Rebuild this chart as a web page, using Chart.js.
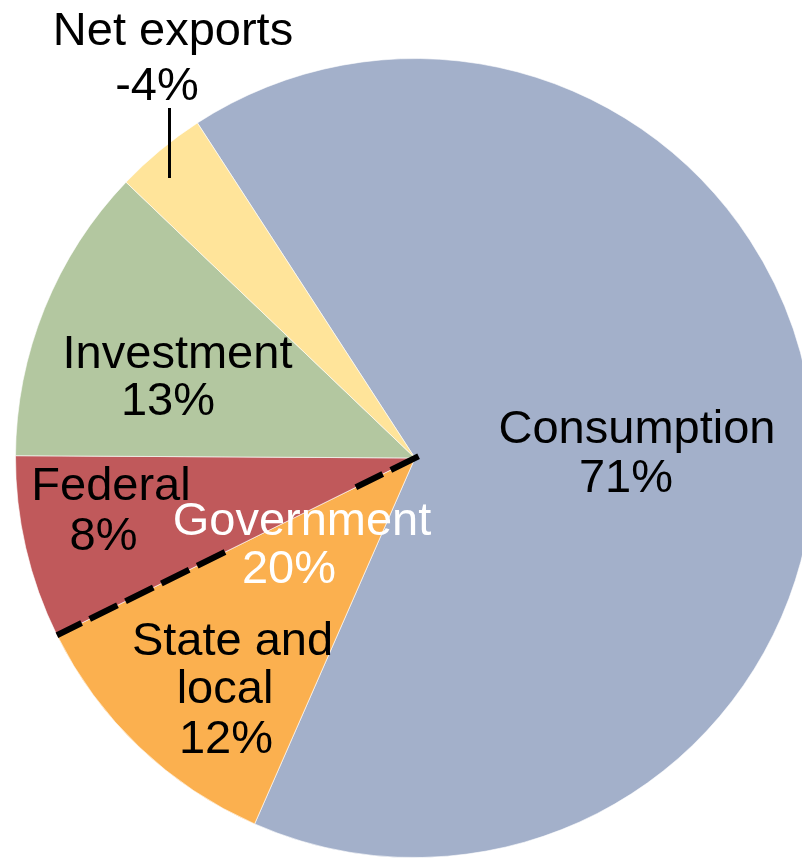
<!DOCTYPE html>
<html>
<head>
<meta charset="utf-8">
<script src="https://cdn.jsdelivr.net/npm/chart.js@4/dist/chart.umd.min.js"></script>
<style>
  html, body { margin: 0; padding: 0; background: #ffffff; overflow: hidden; width: 802px; height: 863px; }
  #wrap { position: absolute; left: 0; top: 0; width: 830px; height: 863px; }
  canvas { display: block; }
</style>
</head>
<body>
<div id="wrap"><canvas id="c" width="830" height="863"></canvas></div>
<script>
// ---- data ----
const categories   = ['Consumption', 'State and local', 'Federal', 'Investment', 'Net exports'];
const sliceValues  = [71, 12, 8, 13, 4];          // slice sizes (net exports drawn by magnitude)
const shareLabels  = ['71%', '12%', '8%', '13%', '-4%'];
const groupName    = 'Government';              // State and local + Federal
const groupShare   = '20%';
const sliceColors  = ['#A3B0CA', '#FBB04F', '#C0595B', '#B3C7A0', '#FFE49A'];

// ---- layout of the annotation text (text centre x, baseline y) ----
const labelLines = [
  { text: 'Consumption', x: 637,   y: 443, color: '#000' },
  { text: shareLabels[0], x: 626,  y: 492, color: '#000' },
  { text: 'State and',   x: 232.5, y: 655, color: '#000' },
  { text: 'local',       x: 225,   y: 703, color: '#000' },
  { text: shareLabels[1], x: 226,  y: 753, color: '#000' },
  { text: 'Federal',     x: 111,   y: 500, color: '#000' },
  { text: shareLabels[2], x: 103.5, y: 550, color: '#000' },
  { text: 'Investment',  x: 177.5, y: 368, color: '#000' },
  { text: shareLabels[3], x: 168,  y: 415, color: '#000' },
  { text: 'Net exports', x: 173,   y: 45,  color: '#000' },
  { text: shareLabels[4], x: 157,  y: 100, color: '#000' },
  { text: groupName,     x: 302,   y: 535, color: '#fff' },
  { text: groupShare,    x: 289,   y: 583, color: '#fff' }
];
const leader = { x: 169.5, y1: 108, y2: 178, width: 3 };
const FONT = '47px "Liberation Sans", Arial, Helvetica, sans-serif';

// dashed divider between Federal and State and local (drawn along the arc edge)
const dividerPlugin = {
  id: 'divider',
  afterDatasetsDraw(chart) {
    const arc = chart.getDatasetMeta(0).data[1]; // State and local
    const p = arc.getProps(['x', 'y', 'endAngle', 'outerRadius'], true);
    const ca = Math.cos(p.endAngle), sa = Math.sin(p.endAngle);
    const ctx = chart.ctx;
    ctx.save();
    ctx.strokeStyle = '#000';
    ctx.lineWidth = 6;
    ctx.lineCap = 'butt';
    ctx.setLineDash([31, 9]);
    const seg = (r0, r1) => {
      ctx.beginPath();
      ctx.moveTo(p.x + ca * r0, p.y + sa * r0);
      ctx.lineTo(p.x + ca * r1, p.y + sa * r1);
      ctx.stroke();
    };
    seg(-4, 66);
    seg(212, p.outerRadius);
    ctx.restore();
  }
};

const labelPlugin = {
  id: 'labels',
  afterDraw(chart) {
    const ctx = chart.ctx;
    ctx.save();
    ctx.font = FONT;
    ctx.textAlign = 'center';
    ctx.textBaseline = 'alphabetic';
    labelLines.forEach(l => {
      ctx.fillStyle = l.color;
      ctx.fillText(l.text, l.x, l.y);
    });
    ctx.strokeStyle = '#000';
    ctx.lineWidth = leader.width;
    ctx.beginPath();
    ctx.moveTo(leader.x, leader.y1);
    ctx.lineTo(leader.x, leader.y2);
    ctx.stroke();
    ctx.restore();
  }
};

new Chart(document.getElementById('c'), {
  type: 'pie',
  data: {
    labels: categories,
    datasets: [{
      data: sliceValues,
      backgroundColor: sliceColors,
      borderColor: 'rgba(255,255,255,0.6)',
      borderWidth: 1
    }]
  },
  options: {
    responsive: false,
    animation: false,
    rotation: -33,
    layout: { padding: { left: 15, right: 15, top: 58, bottom: 5 } },
    plugins: {
      legend: { display: false },
      tooltip: { enabled: false }
    }
  },
  plugins: [dividerPlugin, labelPlugin]
});
</script>
</body>
</html>
